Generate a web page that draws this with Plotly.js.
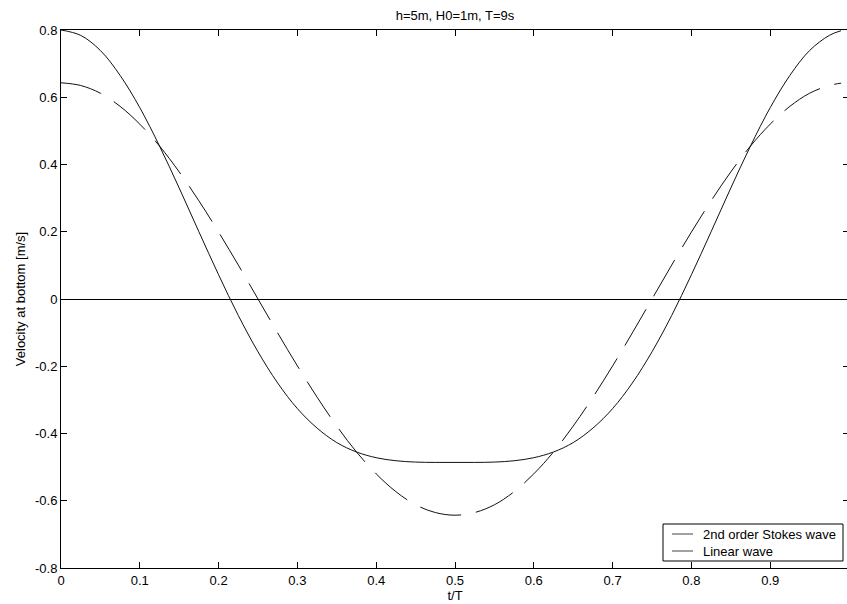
<!DOCTYPE html>
<html>
<head>
<meta charset="utf-8">
<script src="https://cdn.plot.ly/plotly-3.0.1.min.js"></script>
<style>
html, body { margin: 0; padding: 0; overflow: hidden; background: #fff; }
#chart { width: 850px; height: 604px; }
</style>
</head>
<body>
<div id="chart"></div>
<script>
// t/T sample points
const tT = [0, 0.025, 0.05, 0.075, 0.1, 0.125, 0.15, 0.175, 0.2, 0.225,
            0.25, 0.275, 0.3, 0.325, 0.35, 0.375, 0.4, 0.425, 0.45, 0.475,
            0.5, 0.525, 0.55, 0.575, 0.6, 0.625, 0.65, 0.675, 0.7, 0.725,
            0.75, 0.775, 0.8, 0.825, 0.85, 0.875, 0.9, 0.925, 0.95, 0.975, 0.99];
// 2nd order Stokes wave velocity at bottom [m/s]
const stokesVel = [0.800, 0.784, 0.739, 0.665, 0.569, 0.455, 0.330, 0.200, 0.072, -0.049,
                   -0.157, -0.250, -0.326, -0.384, -0.427, -0.455, -0.472, -0.481, -0.485, -0.486,
                   -0.486, -0.486, -0.485, -0.481, -0.472, -0.455, -0.427, -0.384, -0.326, -0.250,
                   -0.157, -0.049, 0.072, 0.200, 0.330, 0.455, 0.569, 0.665, 0.739, 0.784, 0.798];
// Linear wave velocity at bottom [m/s]
const linearVel = [0.643, 0.635, 0.612, 0.573, 0.520, 0.455, 0.378, 0.292, 0.199, 0.101,
                   0.000, -0.101, -0.199, -0.292, -0.378, -0.455, -0.520, -0.573, -0.612, -0.635,
                   -0.643, -0.635, -0.612, -0.573, -0.520, -0.455, -0.378, -0.292, -0.199, -0.101,
                   0.000, 0.101, 0.199, 0.292, 0.378, 0.455, 0.520, 0.573, 0.612, 0.635, 0.642];
const seriesNames = ["2nd order Stokes wave", "Linear wave"];
const xTickVals = [0, 0.1, 0.2, 0.3, 0.4, 0.5, 0.6, 0.7, 0.8, 0.9];
const xTickText = ["0", "0.1", "0.2", "0.3", "0.4", "0.5", "0.6", "0.7", "0.8", "0.9"];
const yTickVals = [-0.8, -0.6, -0.4, -0.2, 0, 0.2, 0.4, 0.6, 0.8];
const yTickText = ["-0.8", "-0.6", "-0.4", "-0.2", "0", "0.2", "0.4", "0.6", "0.8"];

const FONT = "Liberation Sans, Arial, Helvetica, sans-serif";
const FS = 13;

const traces = [
  { x: tT, y: stokesVel, mode: "lines", name: seriesNames[0], showlegend: false, hoverinfo: "skip",
    line: { color: "#111", width: 1, shape: "spline" } },
  { x: tT, y: linearVel, mode: "lines", name: seriesNames[1], showlegend: false, hoverinfo: "skip",
    line: { color: "#111", width: 1, shape: "spline", dash: "42px,15px" } }
];

// Legend drawn as a boxed key (positions in plot-paper fractions)
const PL = 61, PW = 788, PB = 568, PH = 538;
const px = v => (v - PL) / PW;
const py = v => (PB - v) / PH;
const legendRows = [534, 551];
const shapes = [
  { type: "rect", xref: "paper", yref: "paper", x0: px(663), x1: px(843), y0: py(561), y1: py(524),
    line: { color: "#000", width: 1 }, fillcolor: "#fff", layer: "above" }
];
const annotations = [];
seriesNames.forEach((name, i) => {
  shapes.push({ type: "line", xref: "paper", yref: "paper", x0: px(672), x1: px(693),
    y0: py(legendRows[i]), y1: py(legendRows[i]), line: { color: "#444", width: 1 }, layer: "above" });
  annotations.push({ xref: "paper", yref: "paper", x: px(701), y: py(legendRows[i]),
    xanchor: "left", yanchor: "middle", showarrow: false, text: name,
    font: { family: FONT, size: FS, color: "#000" } });
});

const axisCommon = {
  showline: true, linecolor: "#000", linewidth: 1,
  ticks: "inside", ticklen: 6, tickcolor: "#000", tickwidth: 1,
  mirror: "ticks", showgrid: false, automargin: false,
  tickfont: { family: FONT, size: FS, color: "#000" }
};

const layout = {
  width: 850, height: 604,
  margin: { l: 61, r: 1, t: 30, b: 36, pad: 0 },
  paper_bgcolor: "#fff", plot_bgcolor: "#fff",
  font: { family: FONT, size: FS, color: "#000" },
  title: { text: "h=5m, H0=1m, T=9s", font: { family: FONT, size: FS, color: "#000" },
           x: 0.5, xref: "paper", y: 1 - 15 / 604, yref: "container", yanchor: "middle" },
  xaxis: Object.assign({}, axisCommon, {
    range: [0, 1], tickvals: xTickVals, ticktext: xTickText, zeroline: false,
    title: { text: "t/T", font: { family: FONT, size: FS, color: "#000" }, standoff: 0 }
  }),
  yaxis: Object.assign({}, axisCommon, {
    range: [-0.8, 0.8], tickvals: yTickVals, ticktext: yTickText,
    zeroline: true, zerolinecolor: "#000", zerolinewidth: 1,
    title: { text: "Velocity at bottom [m/s]", font: { family: FONT, size: FS, color: "#000" }, standoff: 6 }
  }),
  shapes: shapes,
  annotations: annotations,
  showlegend: false
};

Plotly.newPlot("chart", traces, layout, { displayModeBar: false, staticPlot: true });
</script>
</body>
</html>
